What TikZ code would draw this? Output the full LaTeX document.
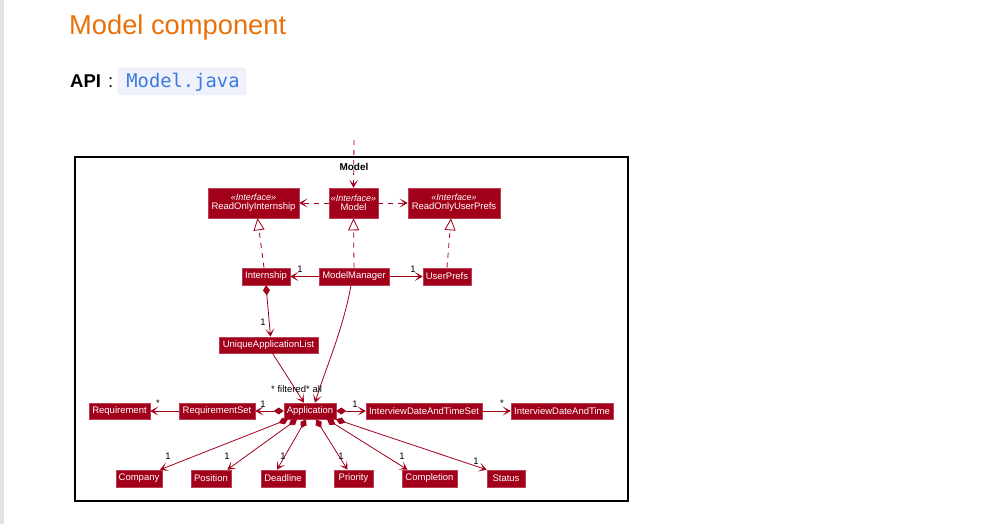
\documentclass[tikz,border=0pt]{standalone}
\usepackage{fontspec}
\setmainfont{Liberation Sans}
\newfontfamily\monof{DejaVu Sans Mono}
\usetikzlibrary{arrows.meta,calc}
\definecolor{pu}{HTML}{A2001A}
\definecolor{ttl}{HTML}{E8710A}
\definecolor{codeblue}{HTML}{3B7BE0}
\definecolor{codebg}{HTML}{EFF1FB}
\definecolor{codebd}{HTML}{DEE1F2}
\tikzset{
  cls/.style={draw=pu!75!white, fill=pu, text=white, inner sep=0pt, font=\fontsize{9.5}{10}\selectfont, line width=0.6pt, align=center},
  lab/.style={font=\fontsize{9.5}{10}\selectfont, inner sep=0pt, text=black},
  ln/.style={draw=pu, line width=0.8pt},
  arr/.style={ln, -{Stealth[length=8pt,width=9pt,inset=4.5pt]}},
  comp/.style={ln, {Diamond[length=10pt,width=7pt]}-{Stealth[length=8pt,width=9pt,inset=4.5pt]}},
  dep/.style={ln, dash pattern=on 5pt off 5pt, -{Stealth[length=8pt,width=9pt,inset=4.5pt]}},
  real/.style={ln, dash pattern=on 5pt off 5pt, -{Triangle[open,length=12pt,width=11pt,fill=white]}}
}
\begin{document}
\begin{tikzpicture}[x=1pt,y=-1pt]
\useasboundingbox (0,0) rectangle (994,524);
\fill[white] (0,0) rectangle (994,524);
\fill[gray!22] (0,0) rectangle (4,524);
\node[anchor=base west, inner sep=0pt, text=ttl, font=\fontsize{27.3}{30}\selectfont] (title) at (69,35) {Model component};
\node[anchor=base west, inner sep=0pt, font=\bfseries\fontsize{18.5}{20}\selectfont] (api) at (70,88) {API};
\node[anchor=base west, inner sep=0pt, font=\fontsize{18.5}{20}\selectfont] (colon) at (108,88) {:};
\node[draw=codebd, fill=codebg, rounded corners=3pt, minimum width=128pt, minimum height=27pt, inner sep=0pt] (codebox) at (182,81.5) {};
\node[inner sep=0pt, anchor=base, text=codeblue, font=\monof\fontsize{18.8}{20}\selectfont] (code) at (183,88) {Model.java};
% frame
\draw[black, line width=1.1pt] (75,157) rectangle (628,501);
\node[font=\bfseries\fontsize{10}{11}\selectfont, inner sep=0pt] (frlabel) at (354,167) {Model};
% nodes
\node[cls, minimum width=91pt, minimum height=30pt] (roi) at (253.5,203) {{\itshape\fontsize{9}{10}\selectfont «Interface»}\\[-1pt]ReadOnlyInternship};
\node[cls, minimum width=49pt, minimum height=30pt] (model) at (353.5,203) {{\itshape\fontsize{9}{10}\selectfont «Interface»}\\[-1pt]Model};
\node[cls, minimum width=92pt, minimum height=30pt] (roup) at (454,203) {{\itshape\fontsize{9}{10}\selectfont «Interface»}\\[-1pt]ReadOnlyUserPrefs};
\node[cls, minimum width=48pt, minimum height=17pt] (intern) at (266,276.5) {Internship};
\node[cls, minimum width=70pt, minimum height=17pt] (mm) at (354,276.5) {ModelManager};
\node[cls, minimum width=48pt, minimum height=17pt] (up) at (447,276.5) {UserPrefs};
\node[cls, minimum width=99pt, minimum height=16pt] (ual) at (268.5,345) {UniqueApplicationList};
\node[cls, minimum width=52pt, minimum height=16pt] (app) at (310,411) {Application};
\node[cls, minimum width=76pt, minimum height=16pt] (rs) at (217,411) {RequirementSet};
\node[cls, minimum width=61pt, minimum height=16pt] (req) at (119.5,411) {Requirement};
\node[cls, minimum width=116pt, minimum height=16pt] (idts) at (424,411) {InterviewDateAndTimeSet};
\node[cls, minimum width=102pt, minimum height=16pt] (idt) at (562,411) {InterviewDateAndTime};
\node[cls, minimum width=46pt, minimum height=17pt] (comp) at (139,478.5) {Company};
\node[cls, minimum width=40pt, minimum height=17pt] (pos) at (211,478.5) {Position};
\node[cls, minimum width=44pt, minimum height=17pt] (dl) at (283,478.5) {Deadline};
\node[cls, minimum width=39pt, minimum height=17pt] (pri) at (353.5,478.5) {Priority};
\node[cls, minimum width=55pt, minimum height=17pt] (cpl) at (429.5,478.5) {Completion};
\node[cls, minimum width=38pt, minimum height=17pt] (st) at (506,478.5) {Status};
% connectors
\coordinate (topin) at (354,140);
\draw[dep] (topin) -- (model.north);
\draw[dep] (model.west) -- (roi.east);
\draw[dep] (model.east) -- (roup.west);
\draw[real] ([xshift=-2pt]intern.north) -- ([xshift=4pt]roi.south);
\draw[real] (mm.north) -- (model.south);
\draw[real] (up.north) -- ([xshift=-3pt]roup.south);
\draw[arr] (mm.west) -- (intern.east);
\draw[arr] (mm.east) -- (up.west);
\draw[comp] (intern.south) -- ([xshift=2pt]ual.north);
\draw[arr] ([xshift=4pt]ual.south) -- ([xshift=-6pt]app.north);
\draw[arr] ([xshift=-3pt]mm.south) .. controls (343,330) and (325,370) .. ([xshift=5pt]app.north);
\draw[comp] (app.west) -- (rs.east);
\draw[arr] (rs.west) -- (req.east);
\draw[comp] (app.east) -- (idts.west);
\draw[arr] (idts.east) -- (idt.west);
\draw[comp] ([xshift=-22pt]app.south) -- ([xshift=21pt]comp.north);
\draw[comp] ([xshift=-13pt]app.south) -- ([xshift=-4pt]pos.north east);
\draw[comp] ([xshift=-4pt]app.south) -- ([xshift=-6pt]dl.north);
\draw[comp] ([xshift=6pt]app.south) -- ([xshift=-6pt]pri.north);
\draw[comp] ([xshift=17pt]app.south) -- ([xshift=-22pt]cpl.north);
\draw[comp] ([xshift=26pt]app.south) -- (st.north west);
% labels
\node[lab] (l1) at (300,269) {1};
\node[lab] (l2) at (413,269) {1};
\node[lab] (l3) at (263,322) {1};
\node[lab, anchor=west] (l4) at (271,389) {* filtered};
\node[lab, anchor=west] (l5) at (306,389) {* all};
\node[lab] (l6) at (263,404) {1};
\node[lab] (l7) at (158,403) {*};
\node[lab] (l8) at (355,404) {1};
\node[lab] (l9) at (502,403) {*};
\node[lab] (l10) at (168,456) {1};
\node[lab] (l11) at (227,456) {1};
\node[lab] (l12) at (283,456) {1};
\node[lab] (l13) at (341,456) {1};
\node[lab] (l14) at (402,456) {1};
\node[lab] (l15) at (476,461) {1};
\end{tikzpicture}
\end{document}
